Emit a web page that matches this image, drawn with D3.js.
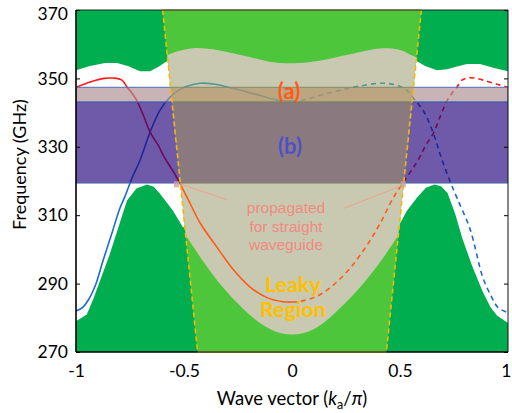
<!DOCTYPE html>
<html><head><meta charset="utf-8">
<script src="https://cdn.jsdelivr.net/npm/d3@7"></script>
<style>html,body{margin:0;padding:0;background:#fff;}</style>
</head><body>
<script>
// ---------- data ----------
const kTicks = [-1, -0.5, 0, 0.5, 1];
const kTickLabels = ["-1", "-0.5", "0", "0.5", "1"];
const fTicks = [270, 290, 310, 330, 350, 370];

// light line (cone edges): [k, f] end points
const coneLeft = [[-0.599, 370], [-0.437, 270]];
const coneRight = [[0.599, 370], [0.437, 270]];

// bands (GHz)
const bandA = [343.1, 347.4];
const bandB = [319.4, 343.1];

// bulk-band (dark green) boundaries
const upperGreenLeft = [[-1,352.4],[-0.935,353.6],[-0.866,354.5],[-0.81,354.5],[-0.76,353.6],[-0.704,352.1],[-0.657,352.1],[-0.62,353.3],[-0.579,355.0],[-0.55,356]];
const upperGreenRight = [[0.55,356],[0.579,355],[0.616,353.6],[0.671,352.4],[0.718,352.7],[0.755,353.3],[0.81,354.2],[0.87,354.2],[0.94,353],[1,352.1]];
const lowerGreenLeft = [[-1,279],[-0.95,281],[-0.92,285.5],[-0.843,298.7],[-0.8,307.2],[-0.764,314.3],[-0.72,317.8],[-0.671,319],[-0.64,318.3],[-0.611,316.3],[-0.551,311.3],[-0.505,306.5],[-0.45,306.5]];
const lowerGreenRight = [[0.45,306.4],[0.49,306.4],[0.532,311.3],[0.579,315.2],[0.62,318],[0.66,319],[0.69,318.5],[0.72,316.5],[0.755,310.5],[0.79,303],[0.835,295],[0.884,287.5],[0.92,283],[0.95,280.6],[1,278.5]];

// leaky region (beige) boundaries
const beigeTop = [[-0.63,355.5],[-0.588,356.5],[-0.53,358],[-0.458,359],[-0.4,358.8],[-0.333,358.2],[-0.25,357],[-0.194,356.3],[-0.12,355],[-0.05,354.4],[0,354.4],[0.05,354.5],[0.116,355],[0.19,356],[0.27,357],[0.35,358.2],[0.42,359],[0.5,358.5],[0.53,357.5],[0.56,356.5],[0.63,355]];
const beigeBottom = [[-0.53,307],[-0.5,305],[-0.45,300],[-0.4,295.5],[-0.35,291],[-0.3,287.5],[-0.25,284],[-0.2,281],[-0.15,278.5],[-0.1,276.5],[-0.05,275.3],[0,275],[0.05,275.3],[0.1,276.5],[0.15,278.5],[0.2,281.5],[0.25,284.5],[0.3,287.8],[0.35,291.5],[0.4,295.5],[0.45,300],[0.5,305],[0.53,307]];

// guided-mode branches
const redBranch = [[-1,347.4],[-0.95,348.6],[-0.912,349.4],[-0.87,350],[-0.829,350.1],[-0.787,349.5],[-0.764,347.5],[-0.74,345.6],[-0.719,343.6],[-0.69,339.5],[-0.657,334.3],[-0.62,330.5],[-0.588,326.6],[-0.55,322.8],[-0.519,319.3],[-0.47,313.2],[-0.426,307.8],[-0.347,300.6],[-0.273,294.2],[-0.194,289],[-0.116,285.9],[-0.042,284.7],[0,284.6],[0.037,284.8],[0.116,286.3],[0.19,289.5],[0.27,294.6],[0.347,301.2],[0.407,307.5],[0.468,315],[0.514,319.5],[0.55,322.8],[0.588,326.6],[0.62,330.5],[0.657,334.3],[0.69,339.5],[0.719,343.6],[0.74,345.6],[0.764,347.5],[0.787,349.5],[0.81,350.1],[0.85,350.1],[0.884,349.5],[0.95,348.3],[1,347.4]];
const blueBranch = [[-1,282],[-0.97,283],[-0.94,285.5],[-0.91,289.5],[-0.875,296.7],[-0.835,304.5],[-0.796,312.2],[-0.773,315.5],[-0.74,321],[-0.704,326],[-0.657,334.3],[-0.611,340.7],[-0.565,344.5],[-0.52,346.7],[-0.486,347.7],[-0.426,348.6],[-0.356,348.3],[-0.273,347.1],[-0.171,345.4],[-0.069,343.7],[0,343.4],[0.051,343.6],[0.116,344.8],[0.208,346.3],[0.3,347.6],[0.42,348.6],[0.49,347.9],[0.532,346.5],[0.565,344],[0.611,340.2],[0.657,333.5],[0.69,327],[0.731,320],[0.764,315],[0.824,306],[0.884,291.7],[0.925,286],[0.954,283],[1,281.5]];

// ---------- layout ----------
const W = 512, H = 413;
const x = d3.scaleLinear().domain([-1, 1]).range([76, 508]);
const y = d3.scaleLinear().domain([270, 370]).range([352, 10]);
const FONT = "Lato, 'Open Sans', sans-serif";

const svg = d3.select("body").append("svg").attr("width", W).attr("height", H);
const defs = svg.append("defs");
const P = d => [x(d[0]), y(d[1])];
const poly = pts => "M" + pts.map(d => P(d).join(",")).join("L") + "Z";
const line = d3.line().x(d => x(d[0])).y(d => y(d[1])).curve(d3.curveCatmullRom.alpha(0.5));

const conePts = [coneLeft[0], coneRight[0], coneRight[1], coneLeft[1]];
const outLeftPts = [[-1, 370], coneLeft[0], coneLeft[1], [-1, 270]];
const outRightPts = [[1, 370], coneRight[0], coneRight[1], [1, 270]];
defs.append("clipPath").attr("id", "cone").append("path").attr("d", poly(conePts));
const co = defs.append("clipPath").attr("id", "outside");
co.append("path").attr("d", poly(outLeftPts));
co.append("path").attr("d", poly(outRightPts));
defs.append("clipPath").attr("id", "plot").append("rect")
  .attr("x", x(-1)).attr("y", y(370)).attr("width", x(1) - x(-1)).attr("height", y(270) - y(370));

const g = svg.append("g").attr("clip-path", "url(#plot)");

// dark green bulk regions
const darkGreen = "#00ae4f";
g.append("path").attr("fill", darkGreen)
  .attr("d", poly([[-1, 370], ...upperGreenLeft, [upperGreenLeft[upperGreenLeft.length - 1][0], 370]]));
g.append("path").attr("fill", darkGreen)
  .attr("d", poly([[upperGreenRight[0][0], 370], ...upperGreenRight, [1, 370]]));
g.append("path").attr("fill", darkGreen)
  .attr("d", poly([[-1, 270], ...lowerGreenLeft, [-0.4, 270]]));
g.append("path").attr("fill", darkGreen)
  .attr("d", poly([[0.4, 270], ...lowerGreenRight, [1, 270]]));

// light cone (light green) + leaky region (beige)
g.append("path").attr("fill", "#4dc63c").attr("d", poly(conePts));
const smooth = d3.line().x(d => x(d[0])).y(d => y(d[1])).curve(d3.curveBasis);
g.append("path").attr("fill", "#c9c9b2").attr("clip-path", "url(#cone)")
  .attr("d", smooth(beigeTop) + "L" + smooth(beigeBottom.slice().reverse()).slice(1) + "Z");

// mode lines
function drawBranch(data, outColor, inColor) {
  const left = data.filter(d => d[0] <= 0), right = data.filter(d => d[0] >= 0);
  [[left, null], [right, "5,4"]].forEach(([seg, dash]) => {
    g.append("path").attr("d", line(seg)).attr("fill", "none").attr("stroke", outColor)
      .attr("stroke-width", 1.6).attr("stroke-dasharray", dash).attr("clip-path", "url(#outside)");
    g.append("path").attr("d", line(seg)).attr("fill", "none").attr("stroke", inColor)
      .attr("stroke-width", 1.6).attr("stroke-dasharray", dash).attr("clip-path", "url(#cone)");
  });
}
drawBranch(blueBranch, "#1f6ad2", "#4f9a8e");
drawBranch(redBranch, "#ff1a1a", "#ff5a14");

// bands (a) and (b), semi-transparent over the lines
function drawBand(b, outFill, inFill) {
  [["outside", outFill, "#4f6fb5"], ["cone", inFill, "#7f8a6a"]].forEach(([clip, fill, stroke]) => {
    g.append("rect").attr("clip-path", `url(#${clip})`)
      .attr("x", x(-1)).attr("width", x(1) - x(-1))
      .attr("y", y(b[1])).attr("height", y(b[0]) - y(b[1]))
      .attr("fill", fill).attr("fill-opacity", 0.65)
      .attr("stroke", stroke).attr("stroke-width", 1);
  });
}
drawBand(bandA, "rgb(171,140,143)", "rgb(181,148,105)");
drawBand(bandB, "rgb(32,2,122)", "rgb(105,80,102)");

// light line dashed edges
[coneLeft, coneRight].forEach(c => {
  g.append("line").attr("x1", x(c[0][0])).attr("y1", y(c[0][1]))
    .attr("x2", x(c[1][0])).attr("y2", y(c[1][1]))
    .attr("stroke", "#f7b800").attr("stroke-width", 1.6).attr("stroke-dasharray", "5,3");
});

// pointer lines for "propagated" note
const notePointers = [[[-0.52, 319.2], [-0.3, 314.5]], [[0.24, 312], [0.51, 318.7]]];
notePointers.forEach(p => {
  g.append("line").attr("x1", x(p[0][0])).attr("y1", y(p[0][1]))
    .attr("x2", x(p[1][0])).attr("y2", y(p[1][1]))
    .attr("stroke", "#f0a090").attr("stroke-width", 1);
});
[[-0.535, 319.6], [0.515, 319.6]].forEach(p => {
  g.append("rect").attr("x", x(p[0]) - 2.5).attr("y", y(p[1]) - 1).attr("width", 5).attr("height", 6)
    .attr("fill", "#c8a4a4").attr("opacity", 0.8);
});

// frame
const fr = svg.append("g");
fr.append("line").attr("x1", x(-1)).attr("x2", x(1)).attr("y1", y(370)).attr("y2", y(370)).attr("stroke", "#222").attr("stroke-width", 1);
fr.append("line").attr("x1", x(1)).attr("x2", x(1)).attr("y1", y(370)).attr("y2", y(270)).attr("stroke", "#111").attr("stroke-width", 1);
fr.append("line").attr("x1", x(coneLeft[0][0])).attr("x2", x(coneRight[0][0])).attr("y1", y(370)).attr("y2", y(370)).attr("stroke", "#6d6526").attr("stroke-width", 1.2);
fr.append("line").attr("x1", x(-1)).attr("x2", x(1)).attr("y1", y(270)).attr("y2", y(270)).attr("stroke", "#000").attr("stroke-width", 1.6);
fr.append("line").attr("x1", x(coneLeft[1][0])).attr("x2", x(coneRight[1][0])).attr("y1", y(270)).attr("y2", y(270)).attr("stroke", "#6d6526").attr("stroke-width", 1.6);
fr.append("line").attr("x1", x(-1)).attr("x2", x(-1)).attr("y1", y(370)).attr("y2", y(270)).attr("stroke", "#000").attr("stroke-width", 1.6);

// axes
const yAx = svg.append("g").attr("transform", `translate(${x(-1)},0)`)
  .call(d3.axisLeft(y).tickValues(fTicks).tickFormat(d3.format("d")).tickSizeInner(-4).tickSizeOuter(0).tickPadding(8));
const yAxR = svg.append("g").attr("transform", `translate(${x(1)},0)`)
  .call(d3.axisRight(y).tickValues(fTicks).tickFormat("").tickSizeInner(-4).tickSizeOuter(0));
const xAx = svg.append("g").attr("transform", `translate(0,${y(270)})`)
  .call(d3.axisBottom(x).tickValues(kTicks).tickFormat((d, i) => kTickLabels[i]).tickSize(0).tickPadding(13));
[yAx, yAxR, xAx].forEach(a => {
  a.select(".domain").remove();
  a.selectAll("text").attr("font-family", FONT).attr("font-size", 17.5).attr("fill", "#000");
  a.selectAll("line").attr("stroke", "#000");
});
yAx.select(".tick:last-of-type text").attr("dy", "0.55em");
// keep the last x label inside the 512 px window
xAx.select(".tick:last-of-type text").attr("text-anchor", "end").attr("x", 3);

// axis titles
svg.append("text").attr("transform", `translate(19,${164.5})rotate(-90)`)
  .attr("text-anchor", "middle").attr("dominant-baseline", "central")
  .attr("font-family", FONT).attr("font-size", 18).text("Frequency (GHz)");
const xt = svg.append("text").attr("x", 292).attr("y", 405).attr("text-anchor", "middle")
  .attr("font-family", FONT).attr("font-size", 18.5);
xt.append("tspan").text("Wave vector (");
xt.append("tspan").attr("font-style", "italic").text("k");
xt.append("tspan").attr("font-size", 12.5).attr("dy", 4).text("a");
xt.append("tspan").attr("dy", -4).text("/");
xt.append("tspan").attr("font-style", "italic").text("π");
xt.append("tspan").text(")");

// annotations
svg.append("text").attr("x", 289).attr("y", 99).attr("text-anchor", "middle")
  .attr("font-family", FONT).attr("font-weight", "bold").attr("font-size", 22).attr("fill", "#ff5b17").text("(a)");
svg.append("text").attr("x", 290).attr("y", 154).attr("text-anchor", "middle")
  .attr("font-family", FONT).attr("font-weight", "bold").attr("font-size", 22).attr("fill", "#4f50c6").text("(b)");
const noteLines = ["propagated", "for straight", "waveguide"];
noteLines.forEach((t, i) => {
  svg.append("text").attr("x", 286).attr("y", 213 + i * 18.5).attr("text-anchor", "middle")
    .attr("font-family", "'Liberation Sans', Arial, sans-serif").attr("font-size", 15.5)
    .attr("fill", "#f08a80").text(t);
});
["Leaky", "Region"].forEach((t, i) => {
  svg.append("text").attr("x", 293).attr("y", 292 + i * 25).attr("text-anchor", "middle")
    .attr("font-family", FONT).attr("font-weight", "bold").attr("font-size", 21.5)
    .attr("fill", "#ffc000").text(t);
});
</script>
</body></html>
